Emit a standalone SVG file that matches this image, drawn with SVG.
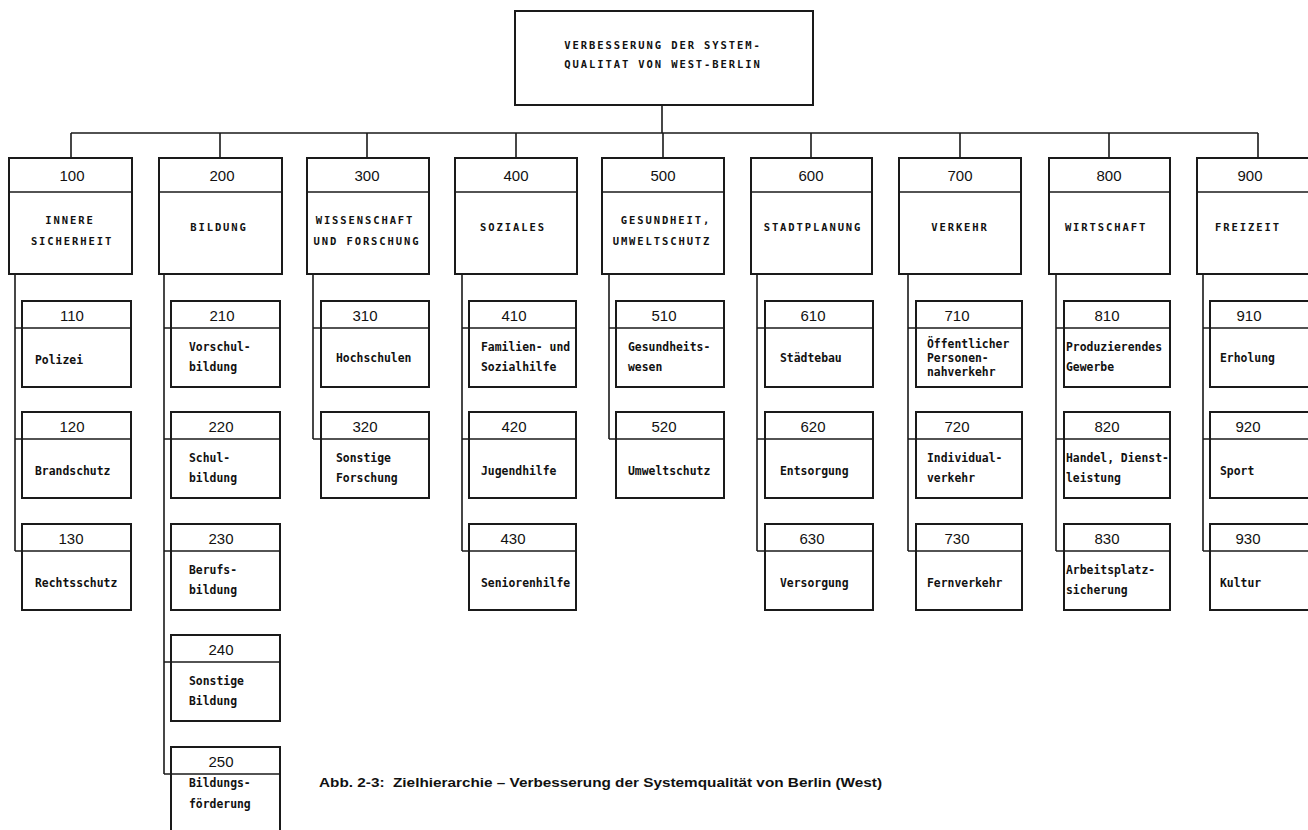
<svg xmlns="http://www.w3.org/2000/svg" width="1308" height="830" viewBox="0 0 1308 830">
<style>
.bx{fill:#fff;stroke:#1a1a1a;stroke-width:2}
.dv{stroke:#1a1a1a;stroke-width:1.6;fill:none}
.cn{stroke:#1a1a1a;stroke-width:1.6;fill:none}
.num{font-family:"Liberation Sans",Arial,sans-serif;font-size:15px;fill:#111;text-anchor:middle}
.cap{font-family:"DejaVu Sans Mono","Liberation Mono",monospace;font-size:10.5px;font-weight:bold;letter-spacing:1.9px;fill:#111;text-anchor:middle}
.lbl{font-family:"DejaVu Sans Mono","Liberation Mono",monospace;font-size:11.4px;font-weight:bold;fill:#111}
.fig{font-family:"Liberation Sans",Arial,sans-serif;font-size:13px;font-weight:bold;fill:#111}
</style>
<rect width="1308" height="830" fill="#fff"/>
<g id="connectors">
<path class="cn" d="M662 105V133M71 133H1258M71 133V158M220 133V158M367 133V158M516 133V158M663 133V158M811 133V158M960 133V158M1109 133V158M1258 133V158"/>
<path class="cn" d="M15 274V551M15 328H22M15 439H22M15 551H22"/>
<path class="cn" d="M164 274V774M164 328H171M164 439H171M164 551H171M164 662H171M164 774H171"/>
<path class="cn" d="M313 274V439M313 328H321M313 439H321"/>
<path class="cn" d="M462 274V551M462 328H469M462 439H469M462 551H469"/>
<path class="cn" d="M609 274V439M609 328H616M609 439H616"/>
<path class="cn" d="M757 274V551M757 328H765M757 439H765M757 551H765"/>
<path class="cn" d="M908 274V551M908 328H916M908 439H916M908 551H916"/>
<path class="cn" d="M1056 274V551M1056 328H1064M1056 439H1064M1056 551H1064"/>
<path class="cn" d="M1203 274V551M1203 328H1210M1203 439H1210M1203 551H1210"/>
</g>
<g id="root">
<rect class="bx" x="515" y="11" width="298" height="94"/>
<text class="cap" x="663" y="49">VERBESSERUNG DER SYSTEM-</text>
<text class="cap" x="663" y="68">QUALITAT VON WEST-BERLIN</text>
</g>
<g id="n100"><rect class="bx" x="9" y="158" width="123" height="116"/><path class="dv" d="M9 192H132"/><text class="num" x="72" y="181">100</text><text class="cap" x="70" y="224">INNERE</text><text class="cap" x="72" y="245">SICHERHEIT</text></g>
<g id="n200"><rect class="bx" x="159" y="158" width="123" height="116"/><path class="dv" d="M159 192H282"/><text class="num" x="222" y="181">200</text><text class="cap" x="219" y="231">BILDUNG</text></g>
<g id="n300"><rect class="bx" x="307" y="158" width="122" height="116"/><path class="dv" d="M307 192H429"/><text class="num" x="367" y="181">300</text><text class="cap" x="365" y="224">WISSENSCHAFT</text><text class="cap" x="367" y="245">UND FORSCHUNG</text></g>
<g id="n400"><rect class="bx" x="455" y="158" width="122" height="116"/><path class="dv" d="M455 192H577"/><text class="num" x="516" y="181">400</text><text class="cap" x="513" y="231">SOZIALES</text></g>
<g id="n500"><rect class="bx" x="602" y="158" width="122" height="116"/><path class="dv" d="M602 192H724"/><text class="num" x="663" y="181">500</text><text class="cap" x="666" y="224">GESUNDHEIT,</text><text class="cap" x="662" y="245">UMWELTSCHUTZ</text></g>
<g id="n600"><rect class="bx" x="751" y="158" width="121" height="116"/><path class="dv" d="M751 192H872"/><text class="num" x="811" y="181">600</text><text class="cap" x="813" y="231">STADTPLANUNG</text></g>
<g id="n700"><rect class="bx" x="899" y="158" width="122" height="116"/><path class="dv" d="M899 192H1021"/><text class="num" x="960" y="181">700</text><text class="cap" x="960" y="231">VERKEHR</text></g>
<g id="n800"><rect class="bx" x="1049" y="158" width="121" height="116"/><path class="dv" d="M1049 192H1170"/><text class="num" x="1109" y="181">800</text><text class="cap" x="1106" y="231">WIRTSCHAFT</text></g>
<g id="n900"><rect class="bx" x="1197" y="158" width="123" height="116"/><path class="dv" d="M1197 192H1320"/><text class="num" x="1250" y="181">900</text><text class="cap" x="1248" y="231">FREIZEIT</text></g>

<g id="n110"><rect class="bx" x="22" y="301" width="109" height="86"/><path class="dv" d="M22 328H131"/><text class="num" x="72" y="321">110</text><text class="lbl" x="35" y="364">Polizei</text></g>
<g id="n120"><rect class="bx" x="22" y="412" width="109" height="86"/><path class="dv" d="M22 439H131"/><text class="num" x="72" y="432">120</text><text class="lbl" x="35" y="475">Brandschutz</text></g>
<g id="n130"><rect class="bx" x="22" y="524" width="109" height="86"/><path class="dv" d="M22 551H131"/><text class="num" x="71" y="544">130</text><text class="lbl" x="35" y="587">Rechtsschutz</text></g>

<g id="n210"><rect class="bx" x="171" y="301" width="109" height="86"/><path class="dv" d="M171 328H280"/><text class="num" x="222" y="321">210</text><text class="lbl" x="189" y="351">Vorschul-</text><text class="lbl" x="189" y="371">bildung</text></g>
<g id="n220"><rect class="bx" x="171" y="412" width="109" height="86"/><path class="dv" d="M171 439H280"/><text class="num" x="221" y="432">220</text><text class="lbl" x="189" y="462">Schul-</text><text class="lbl" x="189" y="482">bildung</text></g>
<g id="n230"><rect class="bx" x="171" y="524" width="109" height="86"/><path class="dv" d="M171 551H280"/><text class="num" x="221" y="544">230</text><text class="lbl" x="189" y="574">Berufs-</text><text class="lbl" x="189" y="594">bildung</text></g>
<g id="n240"><rect class="bx" x="171" y="635" width="109" height="86"/><path class="dv" d="M171 662H280"/><text class="num" x="221" y="655">240</text><text class="lbl" x="189" y="685">Sonstige</text><text class="lbl" x="189" y="705">Bildung</text></g>
<g id="n250"><rect class="bx" x="171" y="747" width="109" height="86"/><path class="dv" d="M171 774H280"/><text class="num" x="221" y="767">250</text><text class="lbl" x="189" y="787">Bildungs-</text><text class="lbl" x="189" y="808">förderung</text></g>

<g id="n310"><rect class="bx" x="321" y="301" width="108" height="86"/><path class="dv" d="M321 328H429"/><text class="num" x="365" y="321">310</text><text class="lbl" x="336" y="362">Hochschulen</text></g>
<g id="n320"><rect class="bx" x="321" y="412" width="108" height="86"/><path class="dv" d="M321 439H429"/><text class="num" x="365" y="432">320</text><text class="lbl" x="336" y="462">Sonstige</text><text class="lbl" x="336" y="482">Forschung</text></g>

<g id="n410"><rect class="bx" x="469" y="301" width="107" height="86"/><path class="dv" d="M469 328H576"/><text class="num" x="514" y="321">410</text><text class="lbl" x="481" y="351">Familien- und</text><text class="lbl" x="481" y="371">Sozialhilfe</text></g>
<g id="n420"><rect class="bx" x="469" y="412" width="107" height="86"/><path class="dv" d="M469 439H576"/><text class="num" x="514" y="432">420</text><text class="lbl" x="481" y="475">Jugendhilfe</text></g>
<g id="n430"><rect class="bx" x="469" y="524" width="107" height="86"/><path class="dv" d="M469 551H576"/><text class="num" x="513" y="544">430</text><text class="lbl" x="481" y="587">Seniorenhilfe</text></g>

<g id="n510"><rect class="bx" x="616" y="301" width="108" height="86"/><path class="dv" d="M616 328H724"/><text class="num" x="664" y="321">510</text><text class="lbl" x="628" y="351">Gesundheits-</text><text class="lbl" x="628" y="371">wesen</text></g>
<g id="n520"><rect class="bx" x="616" y="412" width="108" height="86"/><path class="dv" d="M616 439H724"/><text class="num" x="664" y="432">520</text><text class="lbl" x="628" y="475">Umweltschutz</text></g>

<g id="n610"><rect class="bx" x="765" y="301" width="108" height="86"/><path class="dv" d="M765 328H873"/><text class="num" x="813" y="321">610</text><text class="lbl" x="780" y="362">Städtebau</text></g>
<g id="n620"><rect class="bx" x="765" y="412" width="108" height="86"/><path class="dv" d="M765 439H873"/><text class="num" x="813" y="432">620</text><text class="lbl" x="780" y="475">Entsorgung</text></g>
<g id="n630"><rect class="bx" x="765" y="524" width="108" height="86"/><path class="dv" d="M765 551H873"/><text class="num" x="812" y="544">630</text><text class="lbl" x="780" y="587">Versorgung</text></g>

<g id="n710"><rect class="bx" x="916" y="301" width="106" height="86"/><path class="dv" d="M916 328H1022"/><text class="num" x="957" y="321">710</text><text class="lbl" x="927" y="348">Öffentlicher</text><text class="lbl" x="927" y="362">Personen-</text><text class="lbl" x="927" y="376">nahverkehr</text></g>
<g id="n720"><rect class="bx" x="916" y="412" width="106" height="86"/><path class="dv" d="M916 439H1022"/><text class="num" x="957" y="432">720</text><text class="lbl" x="927" y="462">Individual-</text><text class="lbl" x="927" y="482">verkehr</text></g>
<g id="n730"><rect class="bx" x="916" y="524" width="106" height="86"/><path class="dv" d="M916 551H1022"/><text class="num" x="957" y="544">730</text><text class="lbl" x="927" y="587">Fernverkehr</text></g>

<g id="n810"><rect class="bx" x="1064" y="301" width="106" height="86"/><path class="dv" d="M1064 328H1170"/><text class="num" x="1107" y="321">810</text><text class="lbl" x="1066" y="351">Produzierendes</text><text class="lbl" x="1066" y="371">Gewerbe</text></g>
<g id="n820"><rect class="bx" x="1064" y="412" width="106" height="86"/><path class="dv" d="M1064 439H1170"/><text class="num" x="1107" y="432">820</text><text class="lbl" x="1066" y="462">Handel, Dienst-</text><text class="lbl" x="1066" y="482">leistung</text></g>
<g id="n830"><rect class="bx" x="1064" y="524" width="106" height="86"/><path class="dv" d="M1064 551H1170"/><text class="num" x="1107" y="544">830</text><text class="lbl" x="1066" y="574">Arbeitsplatz-</text><text class="lbl" x="1066" y="594">sicherung</text></g>

<g id="n910"><rect class="bx" x="1210" y="301" width="108" height="86"/><path class="dv" d="M1210 328H1318"/><text class="num" x="1249" y="321">910</text><text class="lbl" x="1220" y="362">Erholung</text></g>
<g id="n920"><rect class="bx" x="1210" y="412" width="108" height="86"/><path class="dv" d="M1210 439H1318"/><text class="num" x="1248" y="432">920</text><text class="lbl" x="1220" y="475">Sport</text></g>
<g id="n930"><rect class="bx" x="1210" y="524" width="108" height="86"/><path class="dv" d="M1210 551H1318"/><text class="num" x="1248" y="544">930</text><text class="lbl" x="1220" y="587">Kultur</text></g>

<g id="caption"><text class="fig" x="319" y="787" textLength="563" lengthAdjust="spacingAndGlyphs" xml:space="preserve">Abb. 2-3:  Zielhierarchie – Verbesserung der Systemqualität von Berlin (West)</text></g>
</svg>
